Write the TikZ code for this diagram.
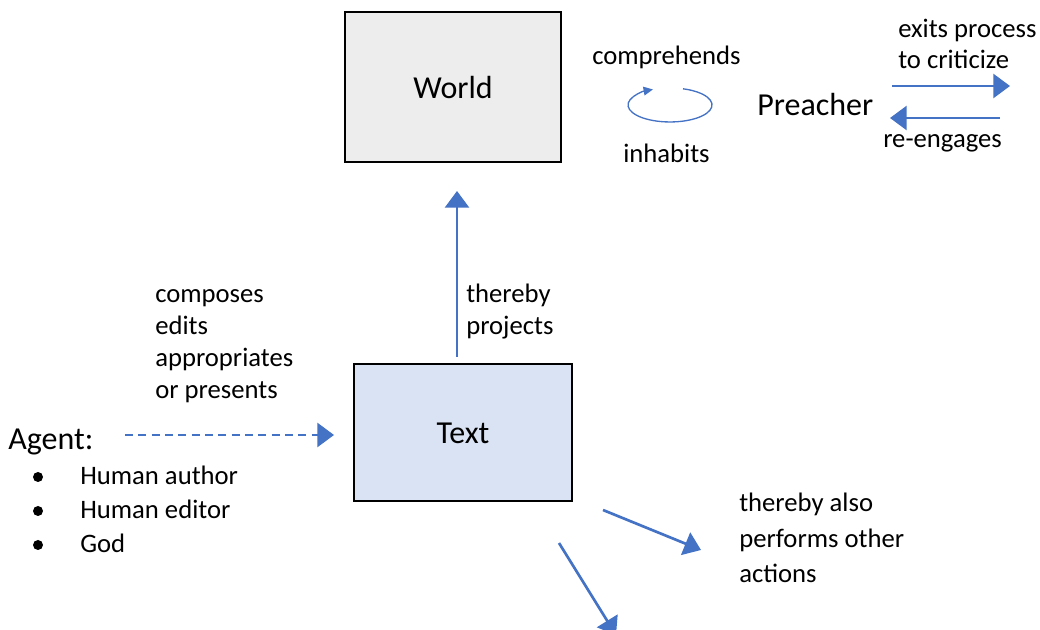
\documentclass[tikz,border=0pt]{standalone}
\usepackage{fontspec}
\setmainfont{Carlito}
\usetikzlibrary{arrows.meta}
\definecolor{arrowblue}{HTML}{4472C4}
\definecolor{worldfill}{HTML}{EDEDED}
\definecolor{textfill}{HTML}{DAE3F3}
\tikzset{
  box/.style={draw=black, line width=1pt, inner sep=0pt},
  bigtext/.style={font=\fontsize{24}{29}\selectfont, inner sep=0pt, anchor=base west},
  label/.style={font=\fontsize{20}{24}\selectfont, inner sep=0pt, anchor=base west},
  flow/.style={draw=arrowblue, line width=2pt, -{Triangle[length=12.5pt, width=18pt]}},
  dashflow/.style={flow, dash pattern=on 6pt off 4pt},
  loop/.style={draw=arrowblue, line width=1pt, -{Triangle[length=7pt, width=6.5pt]}},
  dot/.style={circle, fill=black, minimum size=7.5pt, inner sep=0pt}
}
\begin{document}
\begin{tikzpicture}[x=0.75pt, y=-0.75pt]
\useasboundingbox (0,0) rectangle (1040,630);

% main boxes
\node[box, fill=worldfill, minimum width=162pt, minimum height=112.5pt] (world) at (453,87) {};
\node[bigtext, anchor=base] (worldlbl) at (453,99) {World};
\node[box, fill=textfill, minimum width=163.5pt, minimum height=102.75pt] (text) at (463,432.5) {};
\node[bigtext, anchor=base] (textlbl) at (463,444) {Text};

% projection arrow
\coordinate (projfrom) at (457,357);
\coordinate (projto) at (457,191);
\draw[flow] (projfrom) -- (projto);
\node[label] (thereby) at (466,303) {thereby};
\node[label] (projects) at (466,335) {projects};

% agent side
\node[bigtext] (agent) at (8,450) {Agent:};
\coordinate (agentfrom) at (125,435);
\coordinate (agentto) at (334,435);
\draw[dashflow] (agentfrom) -- (agentto);
\node[label] (composes) at (155,303) {composes};
\node[label] (edits) at (155,335) {edits};
\node[label] (appropriates) at (155,367) {appropriates};
\node[label] (presents) at (155,399) {or presents};
\node[dot] (b1) at (38,477) {};
\node[dot] (b2) at (38,511) {};
\node[dot] (b3) at (38,545) {};
\node[label] (author) at (80,485) {Human author};
\node[label] (editor) at (80,519) {Human editor};
\node[label] (god) at (80,553) {God};

% other actions
\coordinate (actfrom) at (603,510);
\coordinate (actto) at (701,550);
\draw[flow] (actfrom) -- (actto);
\node[label] (also) at (739,512) {thereby also};
\node[label] (performs) at (739,547.5) {performs other};
\node[label] (actions) at (739,583) {actions};
\coordinate (downfrom) at (559,543);
\coordinate (downto) at (616,635);
\draw[flow] (downfrom) -- (downto);

% hermeneutic loop
\node[label] (comprehends) at (592,65) {comprehends};
\node[label] (inhabits) at (623,163) {inhabits};
\coordinate (loopstart) at (683,88.8);
\draw[loop] (loopstart) arc[start angle=-72, end angle=246, x radius=42, y radius=17];

% preacher
\node[bigtext] (preacher) at (757,116) {Preacher};
\node[label] (exits) at (898,38) {exits process};
\node[label] (criticize) at (898,69) {to criticize};
\node[label] (reengages) at (883,148) {re-engages};
\coordinate (exitfrom) at (892,86);
\coordinate (exitto) at (1010,86);
\draw[flow] (exitfrom) -- (exitto);
\coordinate (backfrom) at (1000,118);
\coordinate (backto) at (890,118);
\draw[flow] (backfrom) -- (backto);
\end{tikzpicture}
\end{document}
